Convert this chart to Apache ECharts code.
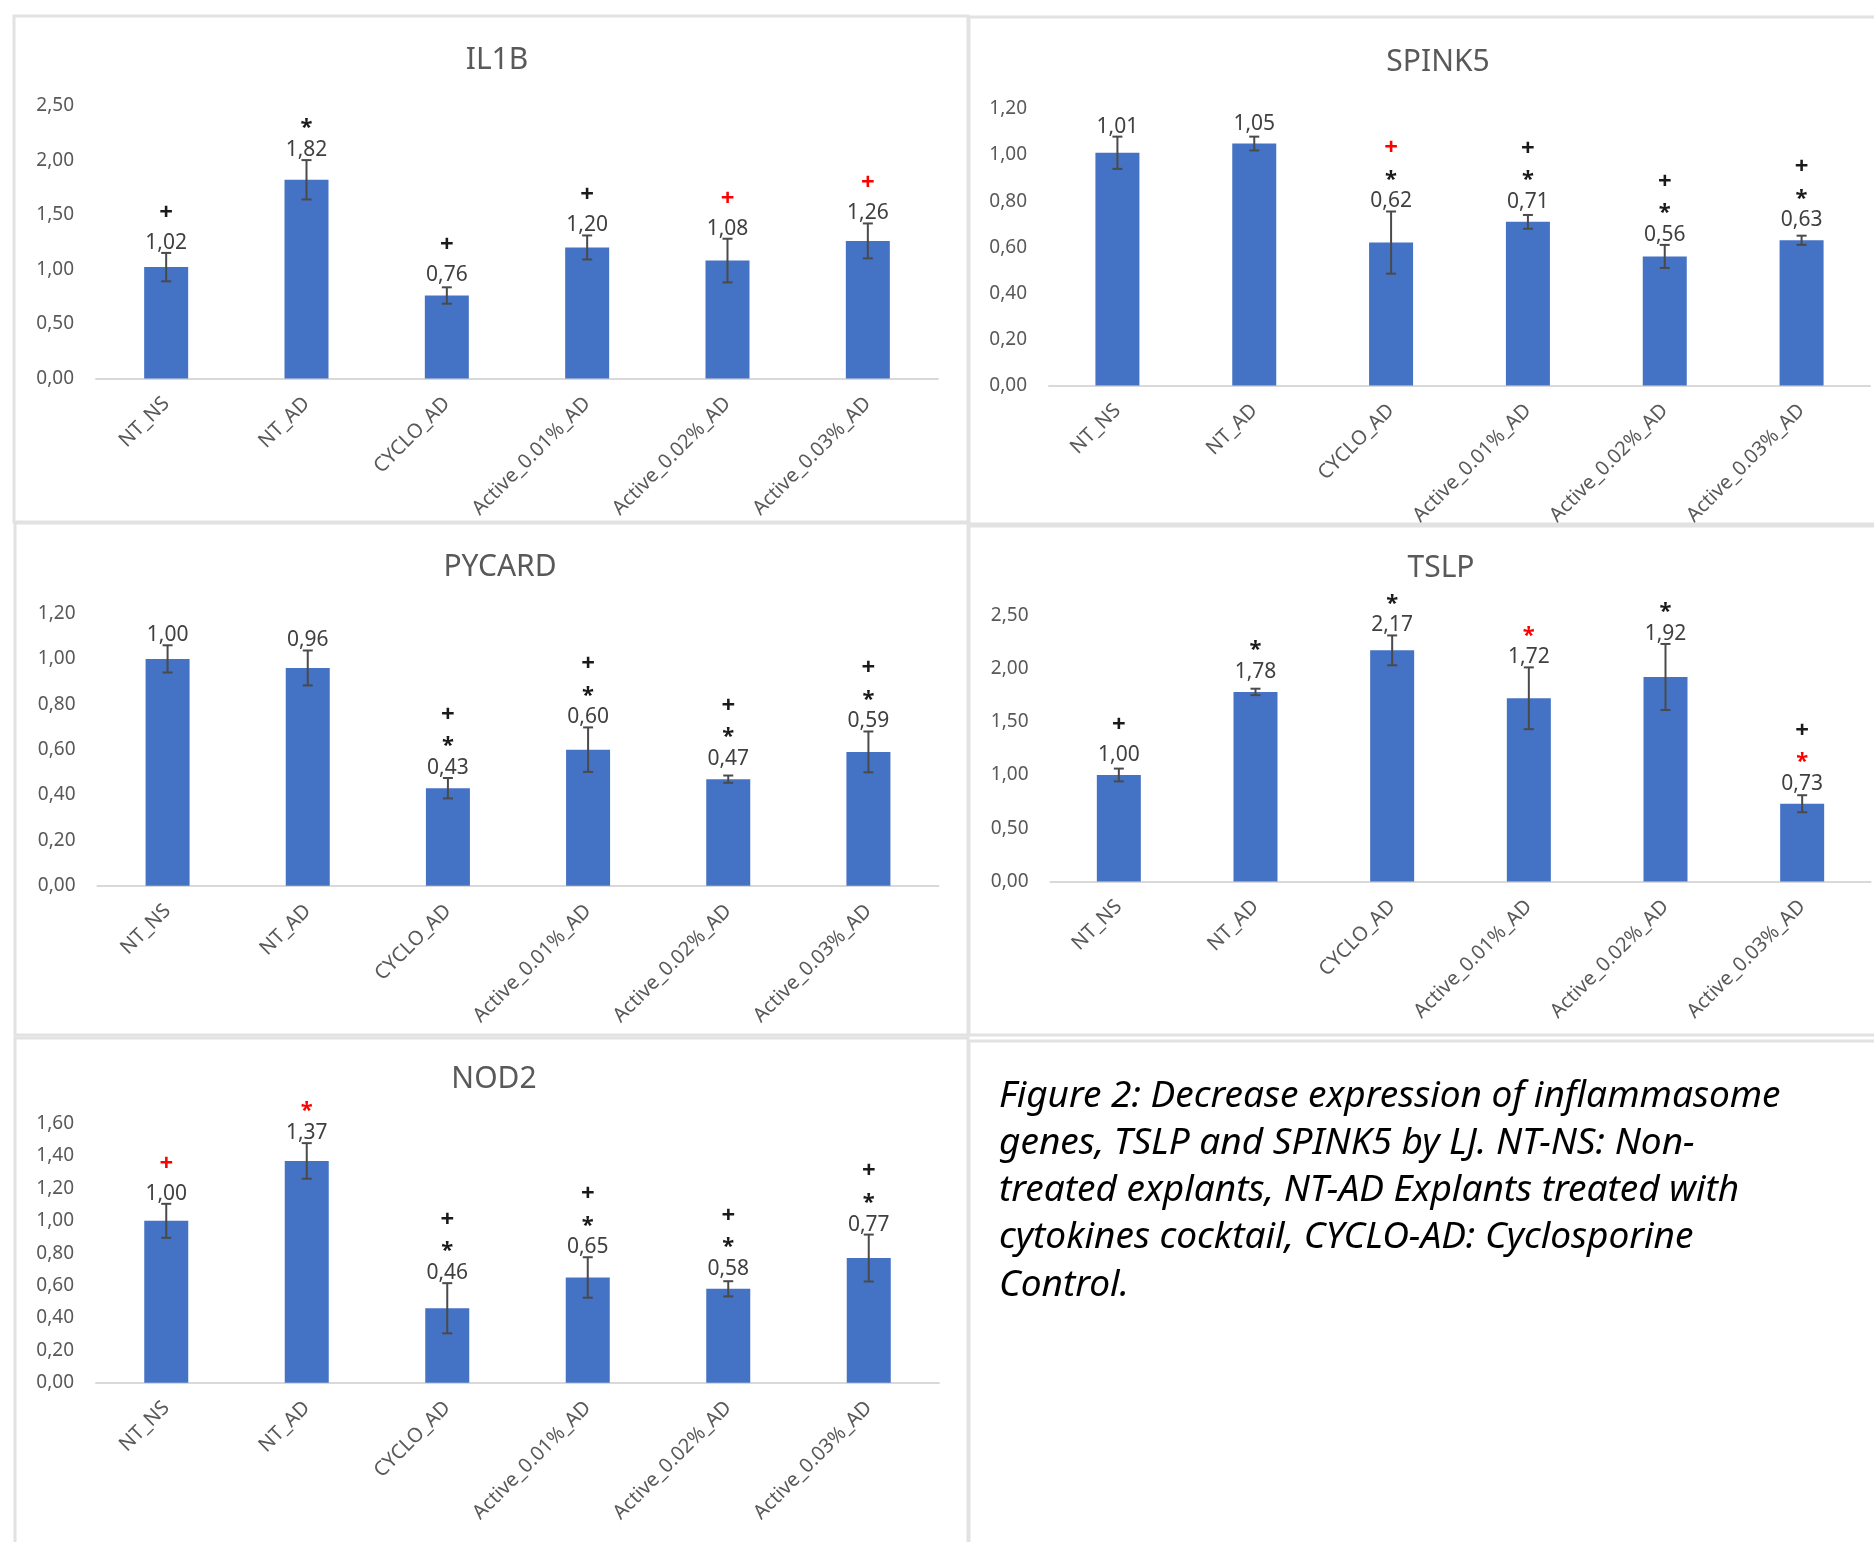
<!DOCTYPE html>
<html>
<head>
<meta charset="utf-8">
<script src="https://cdn.jsdelivr.net/npm/echarts@6/dist/echarts.min.js"></script>
<style>
  html, body { margin: 0; padding: 0; background: #ffffff; }
  #chart { width: 1874px; height: 1542px; }
</style>
</head>
<body>
<div id="chart"></div>
<script>
// Treatment groups shared by every gene panel
const categories = ['NT_NS', 'NT_AD', 'CYCLO_AD', 'Active_0.01%_AD', 'Active_0.02%_AD', 'Active_0.03%_AD'];

// Relative expression (mean) and error (SEM) per gene.
// Significance codes: 's' = significant (black), 't' = trend (red), '' = none.
// "star" = vs NT_NS (*), "plus" = vs NT_AD (+)
const il1bMean = [1.02, 1.82, 0.76, 1.20, 1.08, 1.26];
const il1bSem  = [0.13, 0.18, 0.075, 0.11, 0.20, 0.16];
const il1bStar = ['', 's', '', '', '', ''];
const il1bPlus = ['s', '', 's', 's', 't', 't'];

const spink5Mean = [1.01, 1.05, 0.62, 0.71, 0.56, 0.63];
const spink5Sem  = [0.07, 0.03, 0.135, 0.03, 0.05, 0.02];
const spink5Star = ['', '', 's', 's', 's', 's'];
const spink5Plus = ['', '', 't', 's', 's', 's'];

const pycardMean = [1.00, 0.96, 0.43, 0.60, 0.47, 0.59];
const pycardSem  = [0.06, 0.077, 0.045, 0.098, 0.016, 0.09];
const pycardStar = ['', '', 's', 's', 's', 's'];
const pycardPlus = ['', '', 's', 's', 's', 's'];

const tslpMean = [1.00, 1.78, 2.17, 1.72, 1.92, 0.73];
const tslpSem  = [0.06, 0.03, 0.14, 0.29, 0.31, 0.08];
const tslpStar = ['', 's', 's', 't', 's', 't'];
const tslpPlus = ['s', '', '', '', '', 's'];

const nod2Mean = [1.00, 1.37, 0.46, 0.65, 0.58, 0.77];
const nod2Sem  = [0.105, 0.11, 0.155, 0.125, 0.047, 0.145];
const nod2Star = ['', 't', 's', 's', 's', 's'];
const nod2Plus = ['t', '', 's', 's', 's', 's'];

// Y axis ranges (max, step) per gene
const il1bAxis   = [2.5, 0.5];
const spink5Axis = [1.2, 0.2];
const pycardAxis = [1.2, 0.2];
const tslpAxis   = [2.5, 0.5];
const nod2Axis   = [1.6, 0.2];

const captionLines = [
  'Figure 2: Decrease expression of inflammasome',
  'genes, TSLP and SPINK5 by LJ. NT-NS: Non-',
  'treated explants, NT-AD Explants treated with',
  'cytokines cocktail, CYCLO-AD: Cyclosporine',
  'Control.'
];

const FONT = '"Noto Sans", "Open Sans", sans-serif';
const BAR_BLUE = '#4472C4';
const GRAY_TEXT = '#595959';
const SIG_COLOR = { s: '#1a1a1a', t: '#ff0000' };

const panels = [
  { name: 'IL1B',   mean: il1bMean,   sem: il1bSem,   star: il1bStar,   plus: il1bPlus,   axis: il1bAxis,
    grid: { left: 96,   top: 105.5, width: 842, height: 273 },   box: [14, 16, 954, 506],  titleAt: [492, 58] },
  { name: 'SPINK5', mean: spink5Mean, sem: spink5Sem, star: spink5Star, plus: spink5Plus, axis: spink5Axis,
    grid: { left: 1049, top: 109,   width: 821, height: 276.4 }, box: [969, 17, 930, 507], titleAt: [1433, 60] },
  { name: 'PYCARD', mean: pycardMean, sem: pycardSem, star: pycardStar, plus: pycardPlus, axis: pycardAxis,
    grid: { left: 97.5, top: 613.5, width: 841, height: 272.3 }, box: [15, 523, 953, 512], titleAt: [495, 565] },
  { name: 'TSLP',   mean: tslpMean,   sem: tslpSem,   star: tslpStar,   plus: tslpPlus,   axis: tslpAxis,
    grid: { left: 1050.5, top: 615.2, width: 820, height: 266.3 }, box: [969, 526, 930, 509], titleAt: [1436, 566] },
  { name: 'NOD2',   mean: nod2Mean,   sem: nod2Sem,   star: nod2Star,   plus: nod2Plus,   axis: nod2Axis,
    grid: { left: 96,   top: 1123.7, width: 843, height: 259 },  box: [15, 1038, 953, 530], titleAt: [489, 1077] }
];

const fmt = v => v.toFixed(2).replace('.', ',');

// Error bars, value labels and significance marks for one panel
function makeRenderer(p) {
  return function (params, api) {
    const i = params.dataIndex;
    const m = p.mean[i], e = p.sem[i];
    const x = api.coord([i, m])[0];
    const yBar = api.coord([i, m])[1];
    const yTop = api.coord([i, m + e])[1];
    const yBot = api.coord([i, m - e])[1];
    const stroke = { stroke: '#4a4a4a', lineWidth: 2 };
    const cap = 5;
    const children = [
      { type: 'line', shape: { x1: x, y1: yTop, x2: x, y2: yBot }, style: stroke },
      { type: 'line', shape: { x1: x - cap, y1: yTop, x2: x + cap, y2: yTop }, style: stroke },
      { type: 'line', shape: { x1: x - cap, y1: yBot, x2: x + cap, y2: yBot }, style: stroke }
    ];
    const labelY = Math.min(yBar - 20, yTop - 10);
    children.push({
      type: 'text', x: x, y: labelY,
      style: { text: fmt(m), fill: '#404040', fontSize: 21, fontFamily: FONT, align: 'center', verticalAlign: 'middle' }
    });
    let markY = labelY - 28;
    if (p.star[i]) {
      children.push({
        type: 'text', x: x, y: markY + 6,
        style: { text: '*', fill: SIG_COLOR[p.star[i]], fontSize: 22, fontWeight: 'bold', fontFamily: FONT, align: 'center', verticalAlign: 'middle' }
      });
      markY -= 25;
    } else {
      markY -= 2;
    }
    if (p.plus[i]) {
      children.push({
        type: 'text', x: x, y: markY,
        style: { text: '+', fill: SIG_COLOR[p.plus[i]], fontSize: 24, fontWeight: 'bold', fontFamily: FONT, align: 'center', verticalAlign: 'middle' }
      });
    }
    return { type: 'group', children: children };
  };
}

const option = {
  backgroundColor: '#ffffff',
  animation: false,
  title: panels.map(p => ({
    text: p.name,
    left: p.titleAt[0],
    top: p.titleAt[1] - 18,
    textAlign: 'center',
    textStyle: { fontSize: 30, fontWeight: 'normal', color: GRAY_TEXT, fontFamily: FONT }
  })),
  grid: panels.map(p => Object.assign({ containLabel: false }, p.grid)),
  xAxis: panels.map((p, k) => ({
    type: 'category',
    gridIndex: k,
    data: categories,
    axisLine: { lineStyle: { color: '#d9d9d9', width: 2 } },
    axisTick: { show: false },
    axisLabel: { rotate: 45, interval: 0, fontSize: 20, color: GRAY_TEXT, fontFamily: FONT, margin: 22 }
  })),
  yAxis: panels.map((p, k) => ({
    type: 'value',
    gridIndex: k,
    min: 0,
    max: p.axis[0],
    interval: p.axis[1],
    axisLine: { show: false },
    axisTick: { show: false },
    splitLine: { show: false },
    axisLabel: { fontSize: 19, color: GRAY_TEXT, fontFamily: FONT, margin: 22, formatter: v => fmt(v) }
  })),
  series: [].concat(
    panels.map((p, k) => ({
      type: 'bar',
      name: p.name,
      xAxisIndex: k,
      yAxisIndex: k,
      data: p.mean,
      barWidth: 44,
      itemStyle: { color: BAR_BLUE },
      silent: true
    })),
    panels.map((p, k) => ({
      type: 'custom',
      name: p.name + ' error',
      xAxisIndex: k,
      yAxisIndex: k,
      clip: false,
      z: 5,
      data: p.mean.map((m, i) => [i, m + p.sem[i]]),
      encode: { x: 0, y: 1 },
      renderItem: makeRenderer(p),
      silent: true
    }))
  ),
  graphic: [].concat(
    panels.map(p => ({
      type: 'rect', silent: true, z: 0,
      shape: { x: p.box[0], y: p.box[1], width: p.box[2], height: p.box[3] },
      style: { fill: null, stroke: '#e2e2e2', lineWidth: 3 }
    })),
    [{
      type: 'rect', silent: true, z: 0,
      shape: { x: 969, y: 1041, width: 930, height: 530 },
      style: { fill: null, stroke: '#e2e2e2', lineWidth: 3 }
    }],
    captionLines.map((t, i) => ({
      type: 'text', silent: true,
      x: 999, y: 1096 + i * 47.3,
      style: { text: t, fill: '#000000', fontSize: 37, fontStyle: 'italic', fontFamily: FONT, verticalAlign: 'middle' }
    }))
  )
};

const chart = echarts.init(document.getElementById('chart'), null, { renderer: 'canvas' });
chart.setOption(option);
</script>
</body>
</html>
